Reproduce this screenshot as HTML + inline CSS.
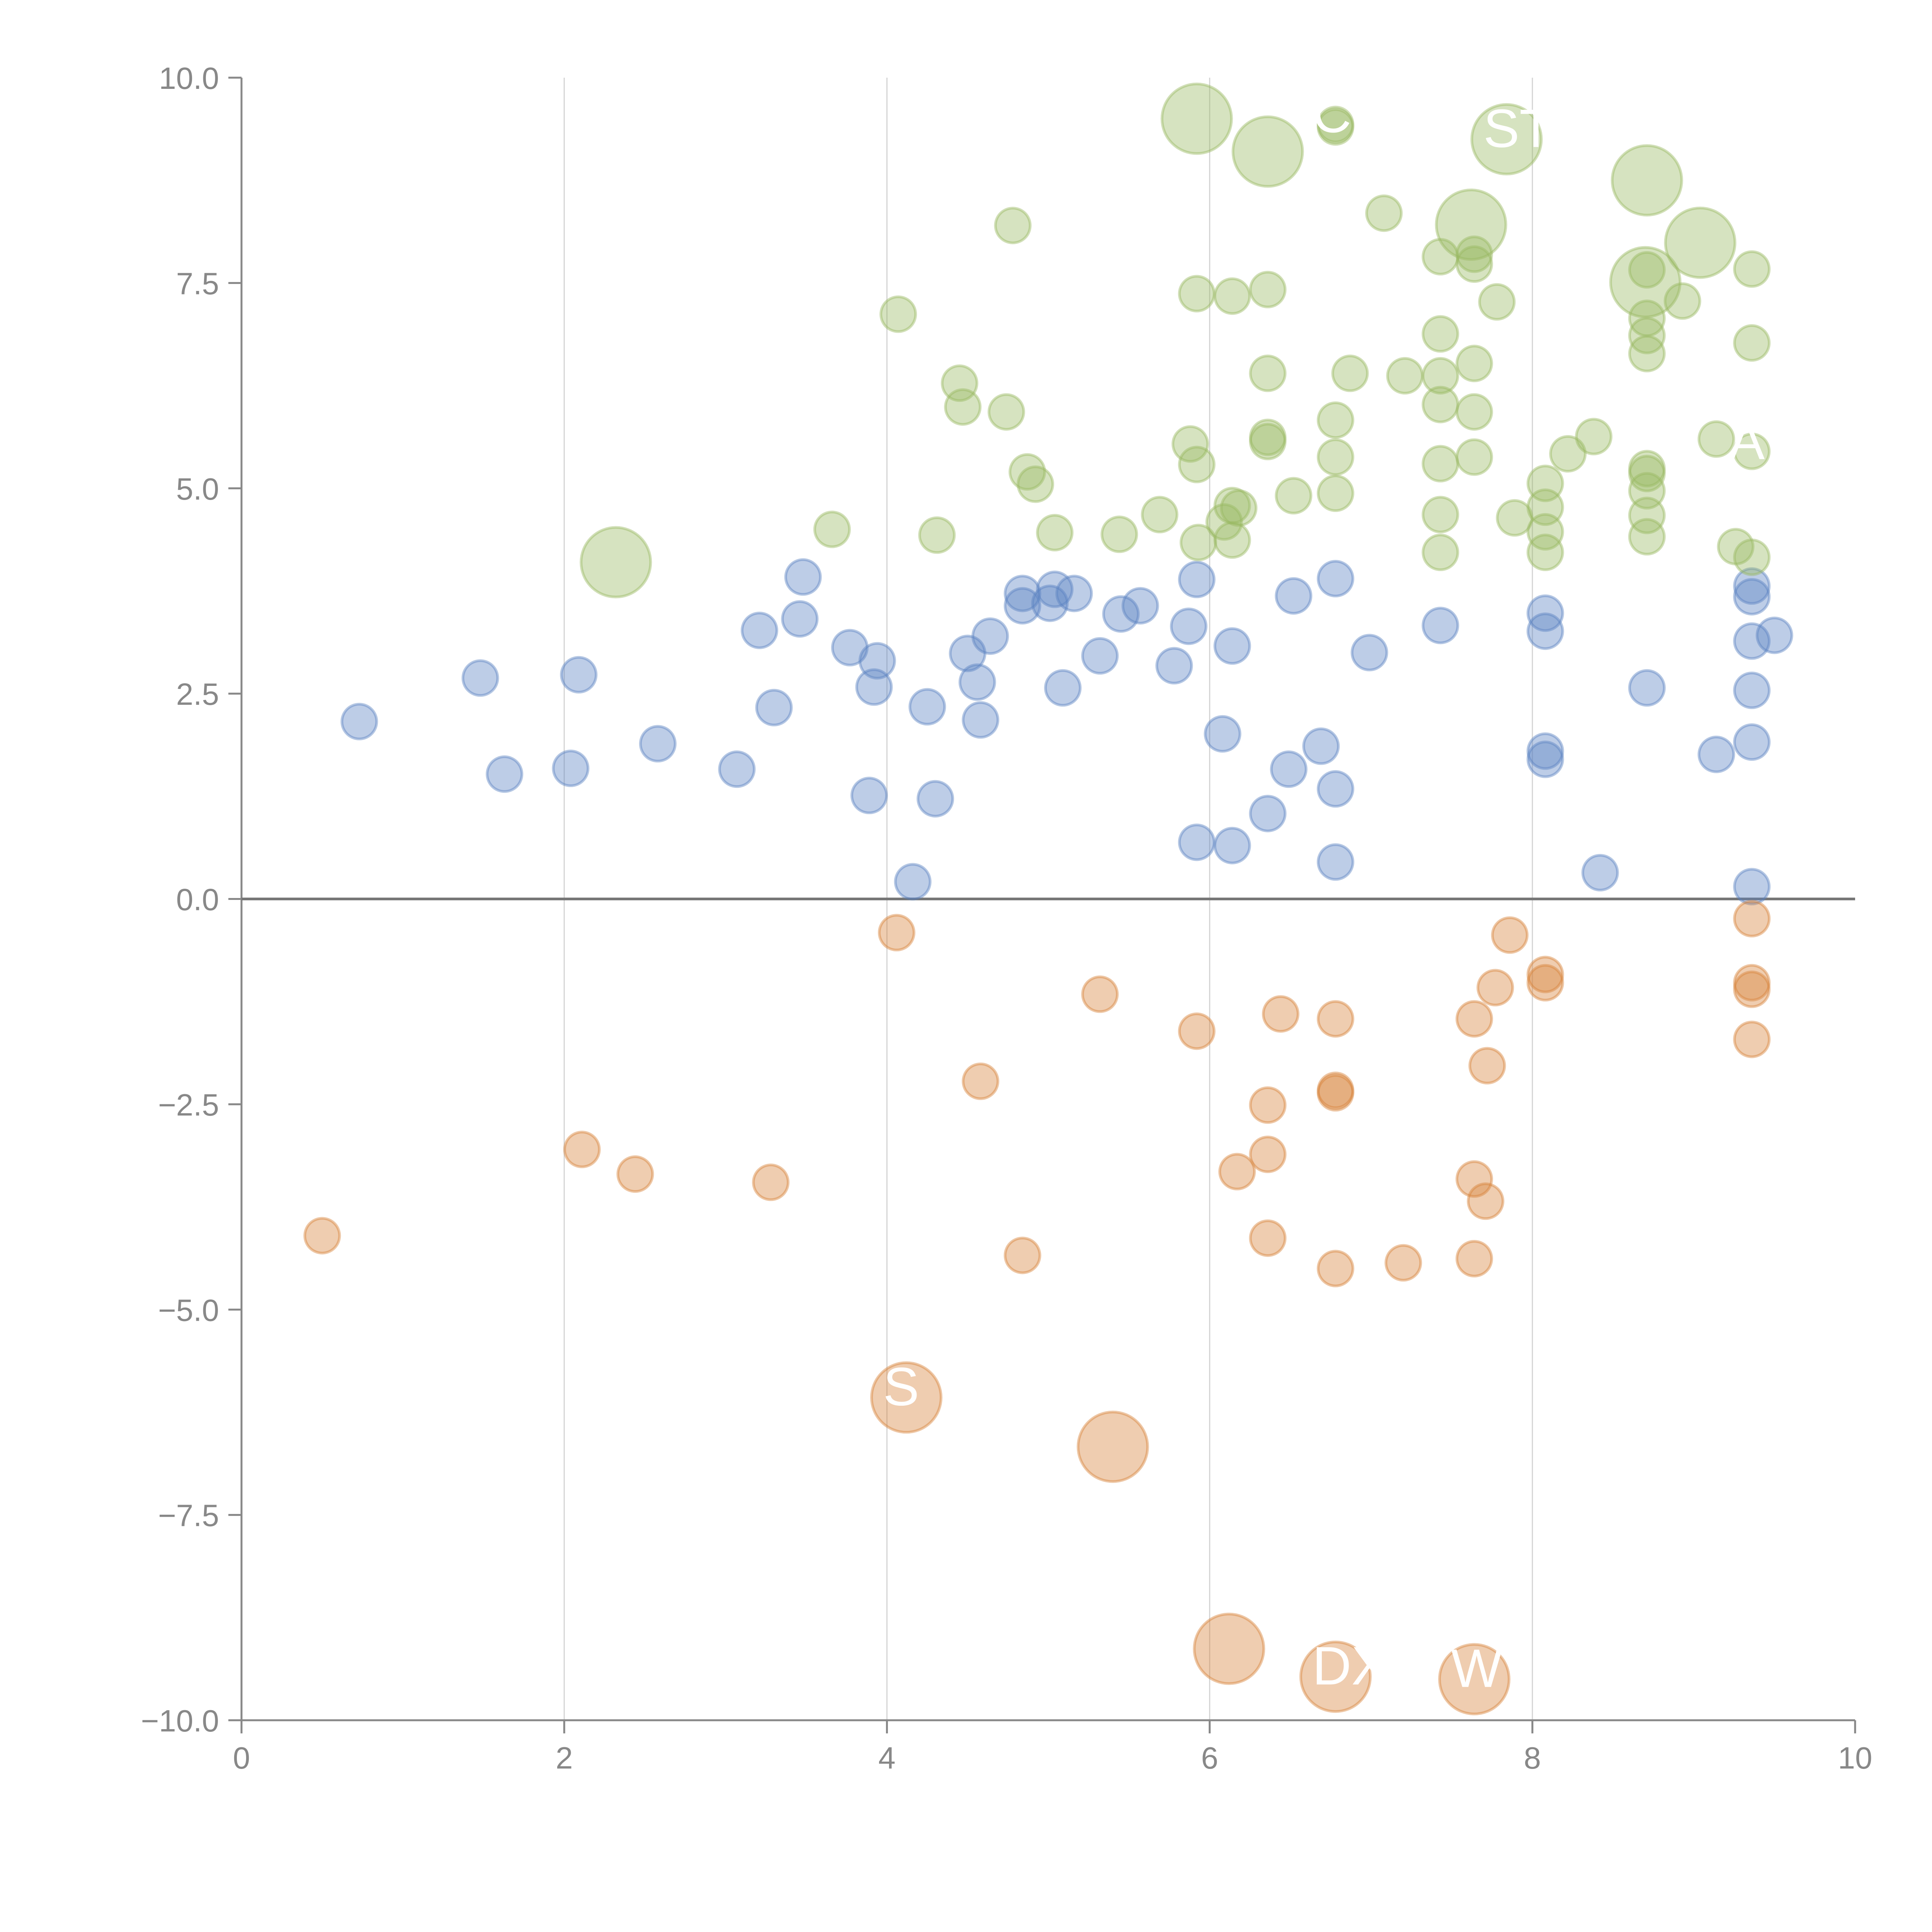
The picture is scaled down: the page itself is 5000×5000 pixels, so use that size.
<!DOCTYPE html>
<html><head><meta charset="utf-8">
<style>
html,body{margin:0;padding:0;background:#fff;}
svg{display:block;font-family:"Liberation Sans",sans-serif;}
</style></head>
<body>
<svg id="chart" width="5000" height="5000" viewBox="0 0 5000 5000" xmlns="http://www.w3.org/2000/svg">
<g id="grid"></g>
<g id="axes"></g>
<g id="marks"></g>
<g id="labels"></g>
</svg>
<script>
const xTicks = [0, 2, 4, 6, 8, 10];
const yTicks = [-10, -7.5, -5, -2.5, 0, 2.5, 5, 7.5, 10];
const yTickLabels = ["\u221210.0","\u22127.5","\u22125.0","\u22122.5","0.0","2.5","5.0","7.5","10.0"];

const blueX = [0.73,1.48,1.63,2.04,2.09,2.58,3.07,3.21,3.30,3.46,3.48,3.77,3.89,3.92,3.94,4.16,4.25,4.30,4.50,4.56,4.58,4.64,4.84,4.84,5.01,5.04,5.09,5.16,5.32,5.45,5.57,5.78,5.87,5.92,5.92,6.08,6.14,6.14,6.36,6.49,6.52,6.69,6.78,6.78,6.78,6.99,7.43,8.08,8.08,8.08,8.08,8.42,8.71,9.14,9.36,9.36,9.36,9.36,9.36,9.36,9.50];
const blueY = [2.16,2.69,1.52,1.59,2.73,1.89,1.58,3.27,2.33,3.41,3.92,3.06,1.26,2.58,2.90,0.21,2.34,1.22,2.99,2.64,2.18,3.20,3.57,3.72,3.60,3.77,2.57,3.72,2.96,3.47,3.57,2.84,3.32,3.89,0.69,2.01,3.08,0.65,1.04,1.58,3.69,1.86,1.34,3.90,0.45,3.00,3.33,3.48,3.26,1.80,1.70,0.32,2.57,1.76,3.81,3.68,3.14,2.54,1.91,0.15,3.21];
const blueSize = blueX.map(()=>1);

const orangeX = [0.50,2.11,2.44,3.28,4.06,4.58,4.84,5.32,5.92,6.17,6.36,6.36,6.36,6.44,6.78,6.78,6.78,6.78,7.20,7.64,7.64,7.64,7.71,7.72,7.77,7.86,8.08,8.08,9.36,9.36,9.36,9.36,4.12,5.40,6.12,6.78,7.64];
const orangeY = [-4.10,-3.05,-3.35,-3.45,-0.41,-2.22,-4.34,-1.16,-1.61,-3.32,-2.51,-3.11,-4.13,-1.40,-1.46,-2.33,-2.36,-4.50,-4.43,-1.46,-3.41,-4.38,-3.68,-2.03,-1.08,-0.44,-0.92,-1.02,-0.24,-1.02,-1.10,-1.71,-6.07,-6.67,-9.13,-9.47,-9.50];
const orangeSize = [1,1,1,1,1,1,1,1,1,1,1,1,1,1,1,1,1,1,1,1,1,1,1,1,1,1,1,1,1,1,1,1,4,4,4,4,4];

const greenX = [3.66,4.07,4.31,4.45,4.47,4.74,4.78,4.87,4.92,5.04,5.44,5.69,5.88,5.92,5.92,5.93,6.09,6.14,6.14,6.14,6.18,6.36,6.36,6.36,6.36,6.52,6.78,6.78,6.78,6.78,6.78,6.87,7.08,7.21,7.43,7.43,7.43,7.43,7.43,7.43,7.43,7.64,7.64,7.64,7.64,7.64,7.78,7.89,8.08,8.08,8.08,8.08,8.22,8.38,8.71,8.71,8.71,8.71,8.71,8.71,8.71,8.71,8.71,8.93,9.14,9.26,9.36,9.36,9.36,9.36,2.32,5.92,6.36,7.84,7.62,8.71,9.04,8.70];
const greenY = [4.50,7.12,4.43,6.28,5.99,5.93,8.20,5.20,5.05,4.46,4.44,4.68,5.54,5.29,7.37,4.34,4.59,7.34,4.79,4.37,4.76,7.42,6.40,5.62,5.57,4.91,5.83,5.38,4.94,9.43,9.40,6.40,8.35,6.37,7.82,6.88,6.37,6.02,5.30,4.68,4.22,7.85,7.73,6.52,5.93,5.38,7.27,4.64,5.06,4.77,4.47,4.22,5.42,5.63,7.66,7.07,6.86,6.64,5.24,5.18,4.97,4.67,4.41,7.28,5.60,4.29,7.67,6.77,5.45,4.16,4.10,9.50,9.10,9.25,8.21,8.75,7.99,7.51];
const greenSize = greenX.map((v,i)=> i>=70 ? 4 : 1);

const labelText = ["DX","STM","W","C","A","S"];
const labelX = [6.78,7.84,7.64,6.78,9.36,4.12];
const labelY = [-9.47,9.25,-9.50,9.43,5.45,-6.07];

const NS = "http://www.w3.org/2000/svg";
const X0 = 625, X1 = 4801, Y0 = 4452, Y1 = 201;
function xs(v){ return X0 + (v - 0) / 10 * (X1 - X0); }
function ys(v){ return Y0 - (v + 10) / 20 * (Y0 - Y1); }
function rs(s){ return 45 * Math.sqrt(s); }
function mk(tag, attrs, parent){
  const e = document.createElementNS(NS, tag);
  for (const k in attrs) e.setAttribute(k, attrs[k]);
  parent.appendChild(e);
  return e;
}
const grid = document.getElementById('grid');
const axes = document.getElementById('axes');
const marks = document.getElementById('marks');
const labels = document.getElementById('labels');

xTicks.forEach((t) => {
  if (t > 0 && t < 10) {
    const g = mk('line', {x1: xs(t), x2: xs(t), y1: Y1, y2: Y0, stroke: '#d4d4d4', 'stroke-width': 3}, grid);
    
    
  }
  const tk = mk('line', {x1: xs(t), x2: xs(t), y1: Y0, y2: Y0 + 34, stroke: '#888', 'stroke-width': 5}, axes);
  
  
  const tx = mk('text', {x: xs(t), y: Y0 + 125, 'text-anchor': 'middle', 'font-size': 80, fill: '#888'}, axes);
  tx.textContent = String(t);
  
  
});
yTicks.forEach((t, i) => {
  const tk = mk('line', {x1: X0 - 34, x2: X0, y1: ys(t), y2: ys(t), stroke: '#888', 'stroke-width': 5}, axes);
  
  
  const tx = mk('text', {x: X0 - 58, y: ys(t) + 29, 'text-anchor': 'end', 'font-size': 80, fill: '#888'}, axes);
  tx.textContent = yTickLabels[i];
  
  
});
const ya = mk('line', {x1: X0, x2: X0, y1: Y1, y2: Y0 + 34, stroke: '#888', 'stroke-width': 5}, axes);


const xa = mk('line', {x1: X0 - 34, x2: X1, y1: Y0, y2: Y0, stroke: '#888', 'stroke-width': 5}, axes);


const zl = mk('line', {x1: X0, x2: X1, y1: ys(0), y2: ys(0), stroke: '#777', 'stroke-width': 7}, axes);



function series(xsArr, ysArr, sz, color, name){
  xsArr.forEach((v, i) => {
    const c = mk('circle', {cx: xs(v), cy: ys(ysArr[i]), r: rs(sz[i]), fill: color, 'fill-opacity': 0.4, stroke: color, 'stroke-opacity': 0.45, 'stroke-width': 7}, marks);
    
    
  });
}
series(blueX, blueY, blueSize, '#5b83c2', 'blue');
series(orangeX, orangeY, orangeSize, '#d78239', 'orange');
series(greenX, greenY, greenSize, '#98b961', 'green');

labelText.forEach((s, i) => {
  const t = mk('text', {x: xs(labelX[i]) - 60, y: ys(labelY[i]) + 20, 'font-size': 140, fill: '#fff'}, labels);
  t.textContent = s;
  
  
});
</script>
</body></html>
